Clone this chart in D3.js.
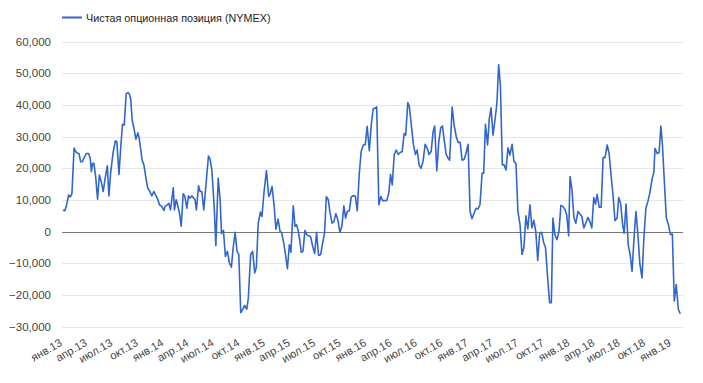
<!DOCTYPE html>
<html><head><meta charset="utf-8">
<script src="https://cdn.jsdelivr.net/npm/d3@7"></script>
<style>body{margin:0;background:#fff}svg{display:block;font-family:"Liberation Sans",Arial,sans-serif}</style>
</head><body><svg id="c" width="703" height="383"></svg>
<script>
const seriesName = "Чистая опционная позиция (NYMEX)";
// week offsets since 2013-01-01
const weeks = [0.5,1.4,2.2,3.4,4.3,5.1,6.2,7.0,7.9,8.7,9.6,10.4,11.3,12.5,13.7,14.5,15.1,15.7,16.4,17.3,18.3,19.2,20.2,21.2,22.2,23.3,24.1,25.0,26.2,27.4,28.2,29.3,30.1,31.1,32.0,33.0,33.9,34.7,35.3,36.1,37.0,38.0,39.0,39.7,40.4,41.2,42.1,43.3,44.1,45.0,46.2,47.2,48.1,49.3,50.1,51.3,52.4,53.0,54.1,54.9,55.8,57.2,57.8,58.7,59.4,60.4,61.3,62.3,63.1,64.2,65.0,65.9,66.7,67.8,68.4,69.1,70.2,71.0,71.9,72.9,75.3,76.1,77.0,77.7,78.4,79.1,80.3,
81.3,82.0,83.0,84.0,85.0,86.1,87.1,87.9,89.0,90.0,90.9,91.9,92.9,93.9,95.0,95.8,97.0,98.0,99.1,99.9,100.9,102.0,102.8,103.9,105.1,106.3,107.1,108.0,109.0,110.0,111.1,112.1,112.9,114.0,114.8,115.9,116.9,117.7,118.9,119.8,120.6,121.5,122.2,123.0,123.9,124.9,125.8,126.8,127.8,128.9,129.9,130.9,131.9,133.0,134.0,135.0,135.9,136.9,137.7,138.8,139.8,140.8,141.8,142.9,143.9,144.9,145.8,146.7,147.7,148.7,149.7,150.8,151.8,152.8,153.8,154.9,155.9,156.9,158.0,159.0,160.0,
160.8,161.8,162.9,163.9,164.9,166.0,167.0,168.0,168.9,169.8,170.8,171.8,172.9,173.9,174.9,175.9,176.7,177.8,178.6,179.7,180.7,181.7,182.6,183.6,184.6,185.6,186.7,187.7,188.7,189.8,190.8,191.6,192.7,193.7,194.7,195.6,196.4,197.5,198.5,199.3,200.6,201.6,202.7,203.7,204.7,205.7,206.7,207.7,208.8,209.8,210.8,211.9,212.9,213.9,214.9,216.0,216.8,217.7,218.8,219.7,220.6,221.6,222.6,223.6,224.5,225.4,226.4,227.3,228.3,229.3,230.3,231.4,232.4,233.4,234.4,235.5,236.5,237.5,238.5,239.5,240.6,
241.6,242.6,243.6,244.6,245.6,246.6,247.6,248.6,249.7,250.7,251.6,252.4,253.4,254.5,255.5,256.5,257.5,258.5,259.5,260.5,261.2,262.2,263.2,264.2,265.3,266.3,267.3,268.3,269.3,270.4,271.4,272.4,273.4,274.3,275.1,276.2,277.2,278.2,279.2,280.3,281.3,282.3,283.3,284.3,285.4,286.2,287.2,288.2,289.0,290.0,291.1,292.1,293.1,294.1,295.1,296.1,297.1,298.2,299.2,300.2,301.2,302.2,303.3,304.3,304.9,306.0,307.0,307.9,308.7,309.7,310.7,311.8,312.8,313.8,314.8,315.8,316.9,317.9];
const values = [6900,6600,8000,11600,11000,12000,26400,25300,24800,24700,22100,22100,23200,24700,24700,23200,19000,21600,21600,17400,10300,17900,15800,12700,16900,20800,11300,18500,24700,28700,28400,18100,25800,33900,33700,43600,43900,43400,42000,35200,32600,29200,31200,29500,26300,22600,21100,16400,13700,12900,11300,12700,11600,10100,8500,8000,6700,8000,8500,9000,6900,13900,6900,10100,8500,5900,1700,12000,11300,7400,11300,10600,11300,10600,10100,6900,14500,12700,12700,6900,23900,23000,19700,13200,5900,-4400,16900,
10100,-600,400,-7800,-6200,-9900,-11200,-5700,-200,-6200,-7200,-25600,-24500,-23300,-24500,-20900,-7200,-6200,-13000,-11400,2700,6200,4800,12700,19300,11100,12200,14300,8500,800,4000,100,-200,-3600,-6700,-11700,-4100,-6500,8200,1700,2200,100,-2500,-6500,-6200,400,-900,-1300,-1600,-4600,-6900,-200,-7500,-7200,-3600,-200,11100,10100,6400,2700,3200,5700,3800,-200,1700,8200,4300,6400,6600,10900,11400,11300,6600,17900,25300,27400,27500,33300,25600,33700,38900,
38900,39400,8500,11100,9800,9800,9900,12200,18100,14800,24200,25800,24400,25000,25300,31000,30500,40800,39400,33100,27400,24400,25800,21100,20000,22100,27600,26500,24400,25300,31600,33400,19200,28200,32800,33400,29500,24400,23200,22600,39400,33700,30000,28200,28200,22600,22800,24700,27600,6400,4100,5900,7400,7200,8500,18500,18500,33900,27400,35800,39100,30500,35200,40500,52700,46200,21100,21100,19500,26500,24200,27600,22100,21600,6400,2200,-7200,-4900,5000,900,8500,
1200,3600,0,-9100,-400,-200,-3300,-5100,-14600,-22400,-22400,4300,-900,-2500,0,8300,8000,7200,5300,-1300,17400,13200,4500,2700,6400,5600,4800,1200,2700,4500,3200,1200,10800,8700,11800,7700,7700,23400,23400,27400,24700,17900,11600,3500,4300,10800,9000,2400,-500,8700,-4100,-7200,-12500,-2000,6400,-900,-10200,-14600,-1500,7400,9500,12200,16400,18800,26300,24700,25000,33400,27400,15800,4300,2200,-900,-700,-21900,-16700,-24500,-25900];
const yTicks = [-30000,-20000,-10000,0,10000,20000,30000,40000,50000,60000];
const monthNames = ["янв","фев","мар","апр","май","июн","июл","авг","сен","окт","ноя","дек"];

const start = new Date(2013,0,1);
const data = weeks.map((w,i)=>({date:d3.timeHour.offset(start, Math.round(w*7*24)), value:values[i]}));
const svg = d3.select("#c");
const pxPerWeek = 1.945;
const x = d3.scaleTime().domain([start, d3.timeDay.offset(start, 7*300)]).range([62, 62 + pxPerWeek*300]);
const y = d3.scaleLinear().domain([-30000,60000]).range([326.7, 41.7]);

// gridlines
svg.append("g").selectAll("line").data(yTicks.filter(d=>d!==0)).join("line")
  .attr("x1",62).attr("x2",683).attr("y1",d=>Math.round(y(d))+0.5).attr("y2",d=>Math.round(y(d))+0.5)
  .attr("stroke","#e6e6e6").attr("stroke-width",1);
// y labels
svg.append("g").selectAll("text").data(yTicks).join("text")
  .attr("x",51).attr("y",d=>y(d)).attr("dy","0.35em").attr("text-anchor","end")
  .attr("font-size",11.5).attr("fill","#444").text(d=>d3.format(",")(d));
// zero baseline
svg.append("line").attr("x1",62).attr("x2",683).attr("y1",Math.round(y(0))+0.5).attr("y2",Math.round(y(0))+0.5)
  .attr("stroke","#777").attr("stroke-width",1);

// x labels
const xt = d3.timeMonth.every(3).range(new Date(2013,0,1), new Date(2019,1,1));
svg.append("g").selectAll("text").data(xt).join("text")
  .attr("text-anchor","end").attr("font-size",11.2).attr("fill","#444")
  .attr("transform",d=>`translate(${x(d)+1},${345}) rotate(-30)`)
  .text(d=>monthNames[d.getMonth()]+"."+String(d.getFullYear()).slice(2));

// line
svg.append("path").datum(data).attr("fill","none").attr("stroke","#3366cc").attr("stroke-width",1.6)
  .attr("stroke-linejoin","round")
  .attr("d", d3.line().x(d=>x(d.date)).y(d=>y(d.value)));

// legend
svg.append("line").attr("x1",62).attr("x2",82).attr("y1",17.5).attr("y2",17.5).attr("stroke","#3366cc").attr("stroke-width",2);
svg.append("text").attr("x",86).attr("y",21.5).attr("font-size",10.8).attr("fill","#222").text(seriesName);
</script></body></html>
